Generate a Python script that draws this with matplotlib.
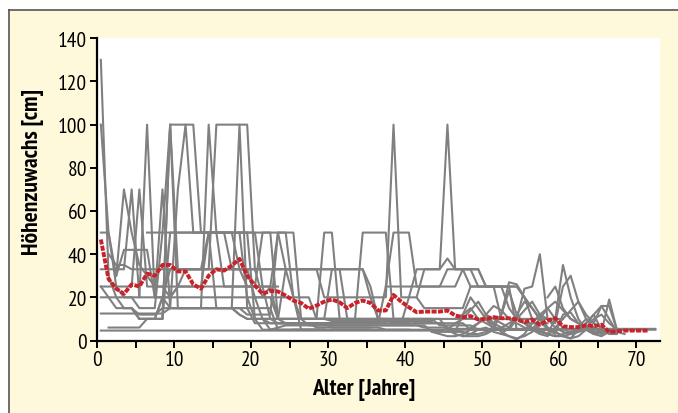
import matplotlib
matplotlib.use("Agg")
import matplotlib.pyplot as plt
from matplotlib.patches import Rectangle
from matplotlib.lines import Line2D

plt.rcParams['font.family'] = ['PT Sans Narrow', 'Roboto Condensed', 'Archivo Narrow',
                               'Liberation Sans Narrow', 'DejaVu Sans']

# Einzelbäume: (Startalter, Höhenzuwachs je Jahr in cm)
baeume = [
    (0, [130, 30, 20, 15, 15, 12, 12, 12, 15, 15, 15, 15, 15, 15, 15, 15, 15, 15, 12, 10, 10, 10, 10, 8, 8, 8, 8, 8, 8, 8, 6, 6, 6, 6, 6, 6]),
    (0, [100, 50, 25, 20, 20, 15, 15, 15, 50, 100, 100, 100, 100, 50, 50, 50, 50, 50, 50, 50, 50, 50, 50, 50, 33, 20, 10, 10, 10, 10, 10, 10, 10, 10, 10, 10, 10, 10, 8, 8, 8, 8, 8, 8, 8]),
    (0, [50, 50, 30, 70, 50, 35, 30, 25, 25, 25, 25, 33, 33, 33, 50, 50, 50, 33, 33, 33, 33, 33, 33, 33, 33, 33, 33, 33, 33, 33, 33, 33, 33, 33, 33, 25, 10, 10, 10, 10, 10, 10, 10, 10, 10, 5, 5, 5, 5, 5, 5, 5]),
    (0, [33, 33, 33, 33, 70, 20, 20, 20, 20, 20, 20, 20, 20, 20, 20, 20, 20, 20, 20, 20, 10, 5, 5, 5, 5, 5, 5, 5, 5, 5]),
    (0, [25, 25, 25, 25, 25, 70, 25, 25, 25, 20, 25, 25, 25, 25, 50, 50, 50, 50, 50, 50, 10, 10, 8, 8, 8, 8, 8, 8, 6, 6, 6, 6, 6, 6, 6, 6, 6, 5, 5, 5, 5]),
    (0, [20, 20, 20, 20, 20, 20, 100, 20, 20, 15, 15, 15, 15, 15, 15, 15, 15, 15, 15, 15, 15, 15, 15, 5, 5, 5, 5, 5, 5, 5]),
    (0, [12.5, 12.5, 12.5, 12.5, 12.5, 12.5, 12.5, 12.5, 12.5, 15, 15, 15, 15, 15, 15, 15, 15, 15, 12, 10, 10, 10, 10, 10, 10, 10, 10, 10, 10, 10, 10, 10, 10]),
    (0, [4.6] * 45 + [5.4] * 28),
    (0, [25, 20, 15, 15, 15, 10, 10, 10, 20, 20, 25, 25, 25, 25, 25, 25, 25, 25, 25, 25, 25, 25, 10, 10, 10, 10, 10, 7, 7, 7, 7, 7, 7, 7, 7, 7, 7, 7, 7, 7, 7, 7, 7, 4, 4, 4, 4, 4]),
    (1, [6, 6, 6, 6, 6, 10, 10, 10, 100, 33, 33, 33, 33, 33, 33, 33, 33, 33, 33, 20, 10, 5, 5]),
    (1, [40, 35, 35, 33, 33, 33, 33, 33, 33, 33, 33, 33, 33, 33, 33, 33, 33, 33, 33, 33, 33, 33, 33, 33, 33, 33, 33, 33, 33, 33, 33, 33, 33, 33, 20, 10, 10, 8, 8, 8]),
    (2, [30, 42, 42, 42, 42, 20, 70, 15, 70, 100, 50, 50, 50, 50, 50, 50, 33, 25, 25, 25, 25, 25]),
    (3, [15, 15, 10, 10, 10, 10, 100, 15, 15, 15, 15, 100, 50, 25, 25, 25, 25, 25, 50, 50, 10, 10, 10, 10, 10, 10, 10, 10, 10]),
    (4, [15, 10, 10, 10, 20, 33, 33, 33, 33, 33, 33, 100, 100, 100, 100, 100, 33, 20, 20, 20, 20, 20, 5, 5, 5]),
    (5, [10, 10, 10, 10, 50, 50, 50, 50, 50, 50, 15, 15, 15, 100, 15, 8, 8, 8, 8, 8, 8, 8, 8, 8, 8, 8]),
    (6, [50, 50, 50, 50, 50, 50, 50, 50, 50, 50, 50, 50, 50, 50, 50, 25, 25, 10, 8, 8, 8, 8, 8, 8, 8, 8, 8, 8, 8, 8, 8, 8]),
    (9, [15, 15, 15, 15, 15, 15, 15, 15, 15, 15, 12, 12, 12, 12, 50, 50, 50, 10, 10, 10, 10, 9, 9, 9, 9, 9, 9, 9, 9, 9, 9, 9, 9, 9, 9]),
    (18, [50, 20, 20, 20, 25, 50, 50, 20, 20, 20, 10, 10, 33, 33, 10, 10, 10, 10, 10, 10, 10, 10, 10, 8, 8, 8, 8, 8, 8, 8, 5, 5, 5, 5, 5, 5, 5, 5, 5, 5, 5, 5, 5]),
    (20, [20, 20, 20, 10, 10, 10, 10, 10, 10, 50, 50, 10, 10, 10, 50, 50, 50, 50, 10, 10, 10, 10, 10, 10, 10, 10, 10, 10, 10, 10, 10, 5, 5, 5, 5, 5, 5, 5, 5]),
    (21, [10, 10, 10, 33, 33, 33, 33, 33, 20, 20, 20, 20, 20, 20, 20, 20, 20, 100, 20, 20, 20, 15, 15, 15, 15, 15, 15, 25, 25, 25, 25, 10, 10, 10, 8, 8, 8, 8]),
    (22, [5, 6, 7, 7, 7, 7, 7, 7, 7, 7, 7, 7, 7, 7, 7, 7, 7, 7, 7, 7, 6, 6, 6, 6, 5, 4, 3, 3, 4, 5, 6, 8, 10, 8, 6, 4, 3, 2, 2, 3, 4, 5]),
    (23, [8, 8, 8, 8, 8, 8, 8, 8, 8, 8, 8, 8, 8, 8, 25, 50, 50, 50, 25, 25, 25, 25, 33, 33, 33, 25, 25, 25, 25, 25, 25, 5, 5, 5, 5, 5]),
    (25, [8, 8, 8, 8, 8, 8, 8, 8, 8, 8, 8, 8, 8, 8, 8, 20, 33, 33, 33, 33, 100, 33, 33, 33, 25, 25, 25, 25, 15, 10, 10, 10, 10, 10, 10, 10]),
    (25, [5, 5, 5, 5, 5, 5, 5, 5, 5, 5, 5, 5, 5, 5, 5, 5, 5, 5, 5, 5, 5, 3, 2, 2, 2, 3, 5, 5, 5, 5, 5, 5, 5, 5, 5, 5, 5, 5, 5, 5]),
    (26, [10, 10, 10, 10, 10, 10, 10, 10, 10, 10, 10, 10, 10, 10, 10, 10, 10, 10, 7, 7, 7, 7, 7, 5, 5, 5, 5, 5, 5, 5, 5, 4, 3, 2, 3, 4, 5, 5, 5, 5]),
    (37, [25, 25, 25, 25, 25, 25, 25, 25, 25, 25, 33, 33, 33, 25, 25, 25, 25, 25, 20, 15, 10]),
    (41, [20, 33, 33, 33, 38, 33, 33, 33, 33, 25, 25, 25, 25, 25, 20, 15, 10, 5]),
    (43, [4, 3, 2, 2, 3, 5, 8, 12, 16, 14, 10, 8, 6, 5, 10, 15, 18, 14, 10, 8, 6, 4, 4]),
    (44, [8, 6, 4, 12, 20, 15, 10, 8, 12, 27, 26, 20, 10, 5, 3, 10, 35, 20, 10, 5, 3, 4]),
    (45, [5, 8, 10, 14, 18, 12, 8, 6, 5, 10, 24, 25, 40, 10, 8, 25, 30, 18, 12, 8, 16, 16, 5]),
    (46, [10, 12, 15, 10, 8, 6, 12, 23, 12, 8, 5, 3, 2, 6, 10, 14, 18, 10, 6, 4, 19, 5]),
    (47, [2, 3, 5, 6, 4, 3, 6, 10, 14, 18, 12, 6, 4, 2, 1, 5, 8, 12, 5, 3, 3]),
    (48, [6, 8, 10, 7, 4, 2, 0.5, 3, 8, 12, 10, 6, 4, 3, 6, 10, 8, 6, 4, 4]),
    (50, [12, 10, 8, 6, 12, 18, 15, 10, 5, 3, 12, 13, 8, 6, 10, 12, 8, 5]),
    (52, [3, 2, 1, 2, 4, 8, 6, 4, 2, 1, 2, 5, 3, 2, 4, 5, 5, 5, 5, 5, 5]),
    (55, [5, 8, 12, 15, 10, 6, 3, 4, 8, 12, 16, 10, 4, 3]),
    (58, [20, 25, 15, 10, 8, 6, 4, 3, 5, 5, 5, 5]),
]

# Mittelwert je Jahr (ab 0,5 Jahre)
mittel = [46.8, 28.5, 24, 21.6, 26, 25, 31, 30, 35, 35, 32, 32, 26, 24, 30, 33, 32.4, 34.7, 37.8, 30,
          25.5, 21.6, 23, 22.7, 20.8, 18.5, 17.4, 14.7, 16.2, 18, 19, 17.7, 15, 17.4, 18.5, 17.4, 13.9, 13.9, 21.1, 18,
          15.4, 13.1, 13.4, 13.4, 13.4, 13.9, 11.6, 10.8, 11.3, 9.7, 10, 10.8, 10.3, 10.3, 9.7, 8.5, 9.7, 7.3, 9.3, 10.3,
          6.6, 6.2, 6.2, 7, 6.6, 7.3, 3.9, 4.3, 4.6, 4.6, 4.6, 4.6]

fig = plt.figure(figsize=(6.78, 4.14), dpi=100)
fig.patch.set_facecolor('white')
# cremefarbener Kasten mit Rand oben/links
fig.patches.append(Rectangle((9 / 678, 0), 1, 1 - 11 / 414, transform=fig.transFigure,
                             facecolor='#FFF9DC', edgecolor='none', zorder=-5))
fig.lines.append(Line2D([9 / 678, 1], [1 - 11 / 414] * 2, transform=fig.transFigure, color='#555555', lw=1.2, zorder=-4))
fig.lines.append(Line2D([9 / 678] * 2, [0, 1 - 11 / 414], transform=fig.transFigure, color='#555555', lw=1.2, zorder=-4))

ax = fig.add_axes([97 / 678, 1 - 341.5 / 414, (660 - 97) / 678, (341.5 - 39.3) / 414])
ax.set_zorder(2)
ax.set_facecolor('white')

for start, werte in baeume:
    x = [start + 0.5 + i for i in range(len(werte))]
    ax.plot(x, werte, color='#808080', lw=1.5, zorder=2)

ax.plot([0.5 + i for i in range(len(mittel))], mittel, color='#C8232B', lw=2.8,
        linestyle=(0, (1.3, 0.35)), zorder=3)

ax.set_xlim(0, 73.1)
ax.set_ylim(0, 140)
ax.set_yticks(range(0, 141, 20))
ax.set_xticks(range(0, 71, 5))
ax.set_xticklabels([str(v) if v % 10 == 0 else '' for v in range(0, 71, 5)])
for s in ['top', 'right']:
    ax.spines[s].set_visible(False)
for s in ['left', 'bottom']:
    ax.spines[s].set_linewidth(1.6)
ax.tick_params(direction='out', length=5, width=1.4, labelsize=15.5, pad=2)

ax.set_xlabel('Alter [Jahre]', fontsize=17, fontweight='bold')
ax.set_ylabel('Höhenzuwachs [cm]', fontsize=17, fontweight='bold')
ax.xaxis.set_label_coords(0.474, -0.125)
ax.yaxis.set_label_coords(-0.094, 0.56)

fig.savefig('out.png', dpi=100, facecolor=fig.get_facecolor())
